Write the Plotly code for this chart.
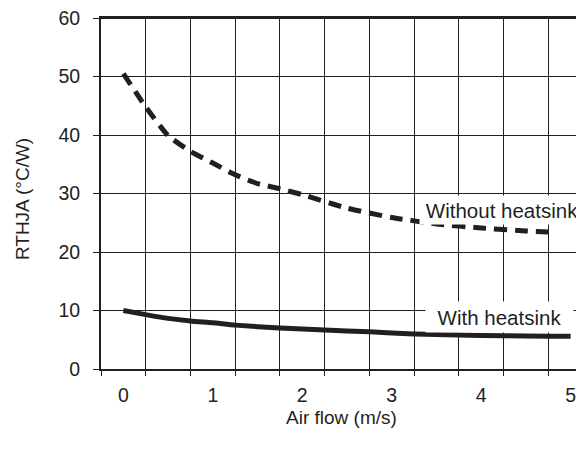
import plotly.graph_objects as go

# Data
air_flow_without = [0, 0.25, 0.5, 0.75, 1.0, 1.25, 1.5, 1.75, 2.0, 2.5, 3.0, 3.5, 4.0, 4.5, 4.78]
rthja_without = [50.5, 44.8, 39.9, 37.2, 35.2, 33.2, 31.7, 30.8, 29.8, 27.5, 25.9, 24.8, 24.1, 23.6, 23.4]

air_flow_with = [0, 0.25, 0.5, 0.75, 1.0, 1.25, 1.75, 2.25, 2.75, 3.25, 3.75, 4.25, 4.75, 5.0]
rthja_with = [10.0, 9.3, 8.65, 8.2, 7.9, 7.5, 7.0, 6.65, 6.35, 6.0, 5.8, 5.7, 5.6, 5.6]

x_tick_labels = [0, 1, 2, 3, 4, 5]
x_grid_positions = [-0.25, 0.25, 0.75, 1.25, 1.75, 2.25, 2.75, 3.25, 3.75, 4.25, 4.75]
y_ticks = [0, 10, 20, 30, 40, 50, 60]

INK = "#231f20"
FONT = "Liberation Sans, Arial, sans-serif"
XRANGE = [-0.25, 5.15]

fig = go.Figure()
fig.add_trace(go.Scatter(
    x=air_flow_without, y=rthja_without, mode="lines",
    line=dict(color=INK, width=5, dash="13px,8px", shape="spline", smoothing=0.5),
    showlegend=False, hoverinfo="skip"))
fig.add_trace(go.Scatter(
    x=air_flow_with, y=rthja_with, mode="lines",
    line=dict(color=INK, width=5, shape="spline", smoothing=0.5),
    showlegend=False, hoverinfo="skip"))
# helper trace for the gridline axis
fig.add_trace(go.Scatter(x=[None], y=[None], xaxis="x2", showlegend=False, hoverinfo="skip"))

# page body has an 8px margin, so the figure is sized to fit the 584x460 window
fig.update_layout(
    width=576, height=452,
    margin=dict(l=93, r=0, t=10, b=91),
    paper_bgcolor="white", plot_bgcolor="white",
    font=dict(family=FONT, color=INK, size=19),
    xaxis=dict(
        range=XRANGE, tickmode="array", tickvals=x_tick_labels,
        ticktext=[str(v) for v in x_tick_labels],
        showgrid=False, zeroline=False, ticks="", showline=True,
        linecolor=INK, linewidth=2, mirror=True,
        tickfont=dict(size=19.5, family=FONT, color=INK),
        ticklabelstandoff=8, ticklabeloverflow="allow",
    ),
    xaxis2=dict(
        range=XRANGE, overlaying="x", side="bottom", matches="x",
        tickmode="array", tickvals=x_grid_positions, showticklabels=False,
        showgrid=True, gridcolor=INK, gridwidth=1.2, zeroline=False,
        ticks="outside", ticklen=6, tickwidth=1.2, tickcolor=INK, showline=False,
    ),
    yaxis=dict(
        range=[0, 60], tickmode="array", tickvals=y_ticks,
        showgrid=True, gridcolor=INK, gridwidth=1.2, zeroline=False,
        ticks="outside", ticklen=6, tickwidth=1.2, tickcolor=INK,
        showline=True, linecolor=INK, linewidth=2,
        tickfont=dict(size=19.5, family=FONT, color=INK),
        ticklabelstandoff=9, ticklabeloverflow="allow",
    ),
    shapes=[
        dict(type="line", xref="paper", yref="paper", x0=0, x1=1, y0=1, y1=1,
             line=dict(color=INK, width=2.2), layer="above"),
    ],
    annotations=[
        dict(text="Without heatsink", x=4.23, y=27.1, xref="x", yref="y",
             showarrow=False, bgcolor="white", font=dict(size=20.5, family=FONT, color=INK),
             width=162, height=26, xanchor="center", yanchor="middle"),
        dict(text="With heatsink", x=4.21, y=8.95, xref="x", yref="y",
             showarrow=False, bgcolor="white", font=dict(size=20.5, family=FONT, color=INK),
             width=145, height=28, xanchor="center", yanchor="middle"),
        dict(text="RTHJA (°C/W)", x=-0.1636, y=0.484, xref="paper", yref="paper",
             showarrow=False, textangle=-90, font=dict(size=19, family=FONT, color=INK),
             xanchor="center", yanchor="middle"),
        dict(text="Air flow (m/s)", x=0.497, y=-0.139, xref="paper", yref="paper",
             showarrow=False, font=dict(size=19, family=FONT, color=INK),
             xanchor="center", yanchor="middle"),
    ],
)

fig.write_html("out.html")
